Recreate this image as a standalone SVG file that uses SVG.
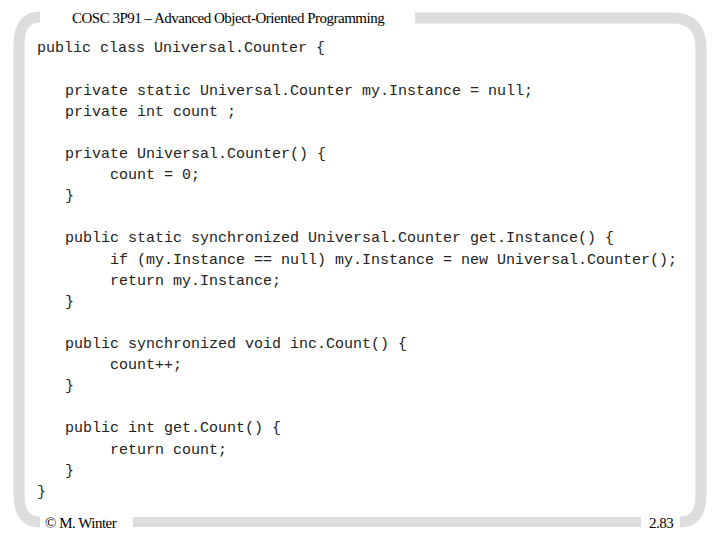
<svg xmlns="http://www.w3.org/2000/svg" width="720" height="540" viewBox="0 0 720 540">
<style>
.f{fill:none;stroke:#dddddd;stroke-width:11}
.c{font-family:"Liberation Mono",monospace;font-size:15px;fill:#222;white-space:pre}
.t{font-family:"Liberation Serif",serif;font-size:15px;fill:#000;letter-spacing:-0.5px}
</style>
<rect width="720" height="540" fill="#fff"/>
<g id="frame">
<path class="f" d="M40,17 Q19,17 19,45 L19,495 Q19,522 40,522"/>
<path class="f" d="M415,18 L672,18 Q701,18 701,48 L701,495 Q701,522 680,522"/>
<rect x="133" y="517" width="508" height="10" fill="#dddddd"/>
</g>
<text class="t" x="72" y="23">COSC 3P91 – Advanced Object-Oriented Programming</text>
<text class="t" x="45" y="528">© M. Winter</text>
<text class="t" x="649" y="528">2.83</text>
<g class="c">
<text x="37" y="52">public class Universal.Counter {</text>
<text x="65" y="95">private static Universal.Counter my.Instance = null;</text>
<text x="65" y="116">private int count ;</text>
<text x="65" y="158">private Universal.Counter() {</text>
<text x="110" y="179">count = 0;</text>
<text x="65" y="200">}</text>
<text x="65" y="242">public static synchronized Universal.Counter get.Instance() {</text>
<text x="110" y="264">if (my.Instance == null) my.Instance = new Universal.Counter();</text>
<text x="110" y="285">return my.Instance;</text>
<text x="65" y="306">}</text>
<text x="65" y="348">public synchronized void inc.Count() {</text>
<text x="110" y="369">count++;</text>
<text x="65" y="390">}</text>
<text x="65" y="432">public int get.Count() {</text>
<text x="110" y="454">return count;</text>
<text x="65" y="475">}</text>
<text x="37" y="496">}</text>
</g>
</svg>
